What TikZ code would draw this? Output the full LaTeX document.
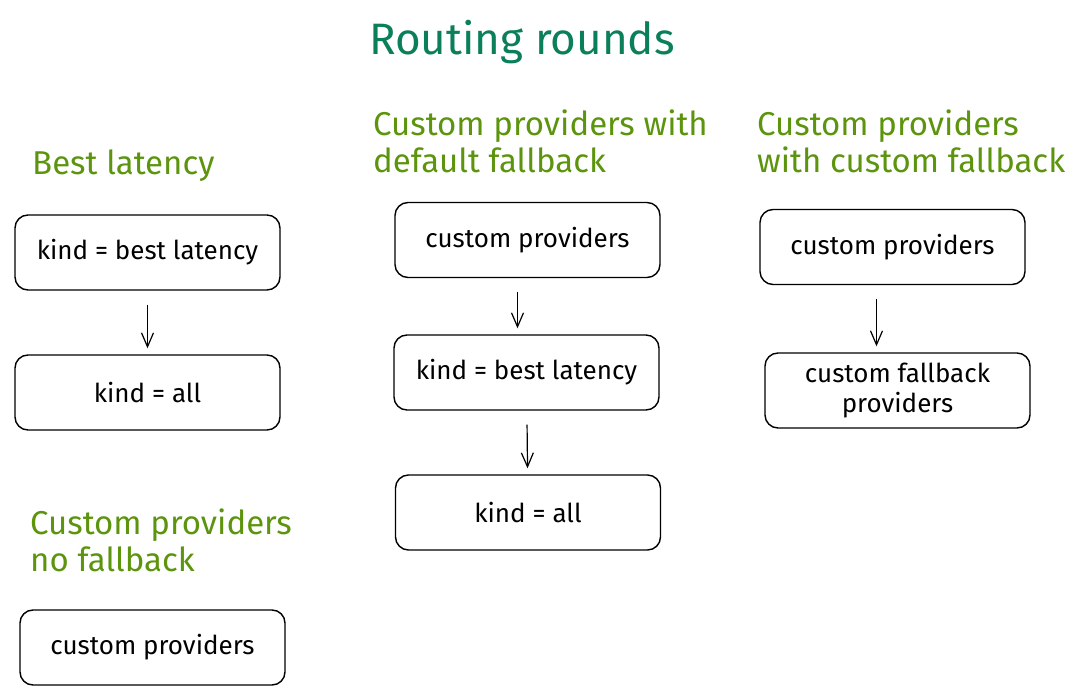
\documentclass[tikz,border=0pt]{standalone}
\usepackage{fontspec}
\setmainfont{Fira Sans}
\usetikzlibrary{arrows.meta}
\definecolor{titlegreen}{HTML}{0A7F5A}
\definecolor{headgreen}{HTML}{5C940D}
\tikzset{
  box/.style={draw, line width=1.4pt, rounded corners=13pt, minimum width=265pt, minimum height=75pt,
    align=center, inner sep=0pt, font=\fontsize{26}{30}\selectfont},
  heading/.style={anchor=base west, align=left, inner sep=0pt, text=headgreen,
    font=\fontsize{33}{37}\selectfont},
  flow/.style={line width=1.2pt, -{Straight Barb[length=14pt,width=12pt,line width=1.2pt]}, shorten <=14pt, shorten >=6pt}
}
\begin{document}
\begin{tikzpicture}[x=1pt,y=-1pt]
\useasboundingbox (0,0) rectangle (1080,700);
\node[anchor=base, inner sep=0pt, text=titlegreen, font=\fontsize{44}{50}\selectfont] (title) at (522,55) {Routing rounds};

% column 1
\node[heading] (h1) at (32,175) {Best latency};
\node[box] (b1) at (147.5,252.5) {kind = best latency};
\node[box] (b2) at (147.5,392.5) {kind = all};
\draw[flow] (b1) -- (b2);
\node[heading] (h4) at (30,572) {Custom providers\\no fallback};
\node[box] (b3) at (152.5,647.5) {custom providers};

% column 2
\node[heading] (h2) at (373,173) {Custom providers with\\default fallback};
\node[box] (c1) at (527.5,240) {custom providers};
\node[box] (c2) at (526.5,372.5) {kind = best latency};
\node[box] (c3) at (528,512.5) {kind = all};
\draw[flow] ([xshift=-10pt]c1.south) -- ([xshift=-9pt]c2.north);
\draw[flow] (c2) -- (c3);

% column 3
\node[heading] (h3) at (757,173) {Custom providers\\with custom fallback};
\node[box] (d1) at (892.5,247) {custom providers};
\node[box] (d2) at (897.5,390.5) {custom fallback\\providers};
\draw[flow] ([xshift=-16pt]d1.south) -- ([xshift=-21pt]d2.north);
\end{tikzpicture}
\end{document}
